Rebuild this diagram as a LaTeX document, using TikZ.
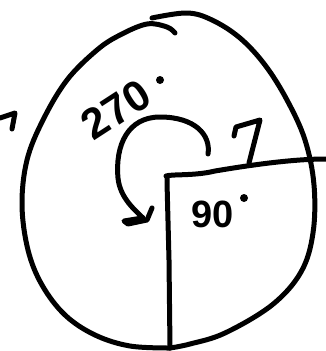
\documentclass[tikz,border=0pt]{standalone}
\usepackage{fontspec}
\setmainfont{Liberation Sans}
\begin{document}
\begin{tikzpicture}[x=1pt,y=-1pt,
  ink/.style={line width=5pt,line cap=round,line join=round,black},
  lbl/.style={font=\fontsize{43}{43}\selectfont\bfseries,inner sep=0pt}]
\useasboundingbox (0,0) rectangle (326,351);
% oval, left stroke
\draw[ink] plot[smooth,tension=0.6] coordinates {(175,33)(167,27)(147,24)(120,35)(97,50)(67,80)(43,120)(27,160)(22,205)(28,250)(42,285)(65,315)(95,335)(130,346)(170,348)};
% oval, right stroke
\draw[ink] plot[smooth,tension=0.6] coordinates {(152,18)(187,13)(212,20)(240,38)(265,65)(287,100)(305,140)(314,185)(313,233)(301,272)(272,305)(225,333)(190,344)(170,348)};
% radii
\coordinate (c) at (167,177);
\coordinate (b) at (170,348);
\coordinate (r) at (326,159);
\draw[ink] (b) -- (169,260) -- (167,182) -- (c);
\draw[ink] (166,176) .. controls (172,174) and (195,176) .. (215,171) .. controls (245,166) and (290,159) .. (r);
% right angle marker
\coordinate (m2) at (260,120);
\coordinate (m3) at (249,163);
\draw[ink] (234,136) -- (236,127) -- (m2) -- (m3);
% curved arrow
\coordinate (a0) at (208,154);
\draw[ink] (a0) .. controls (211,135) and (195,117) .. (160,117) .. controls (128,117) and (115,145) .. (118,178) .. controls (120,198) and (135,210) .. (143,218);
\draw[ink] (152,208) -- (147,220) -- (128,224) -- (124,221) -- (142,218);
% small arrow at left
\coordinate (s0) at (0,118);
\draw[ink] (s0) -- (15,113) -- (12,129);
% labels
\node[lbl,rotate=33] (t270) at (116,110) {270};
\fill (160,80) circle (4pt);
\node[lbl,font=\fontsize{38}{38}\selectfont\bfseries] (t90) at (213,214) {90};
\fill (244,198) circle (4pt);
\end{tikzpicture}
\end{document}
